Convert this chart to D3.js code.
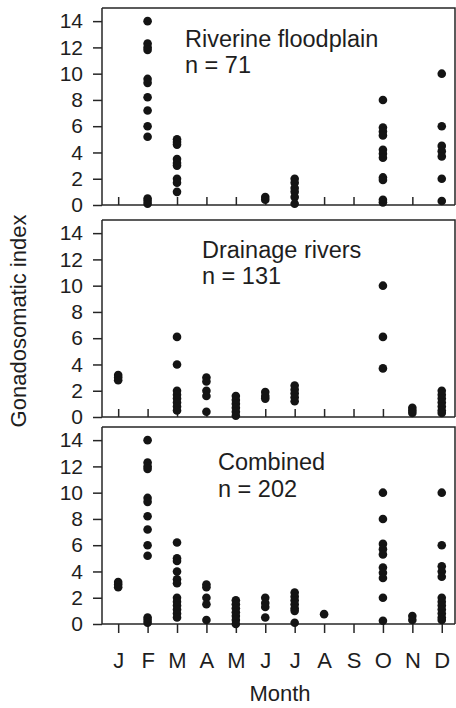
<!DOCTYPE html>
<html>
<head>
<meta charset="utf-8">
<script src="https://cdn.jsdelivr.net/npm/d3@7"></script>
<style>
  html, body { margin: 0; padding: 0; background: #ffffff; }
  svg text { font-family: "Liberation Sans", Arial, Helvetica, sans-serif; fill: #1e1e1e; }
</style>
</head>
<body>
<svg id="chart" width="456" height="708"></svg>
<script>
// ---- data ----
const months = ["J","F","M","A","M","J","J","A","S","O","N","D"];
const yTicks = [0, 2, 4, 6, 8, 10, 12, 14];
const panelTitles = ["Riverine floodplain", "Drainage rivers", "Combined"];
const panelCounts = ["n = 71", "n = 131", "n = 202"];

// values per month (J..D)
const floodplain = [
  [],
  [14.0, 12.3, 12.0, 11.8, 9.6, 9.3, 8.2, 7.2, 6.0, 5.2, 0.5, 0.3, 0.1],
  [5.0, 4.8, 4.6, 3.5, 3.2, 3.0, 2.0, 1.7, 1.0],
  [],
  [],
  [0.6, 0.4],
  [2.0, 1.7, 1.3, 1.0, 0.6, 0.1],
  [],
  [],
  [8.0, 5.9, 5.6, 5.3, 4.2, 3.9, 3.6, 2.1, 1.9, 0.4, 0.2],
  [],
  [10.0, 6.0, 4.5, 4.1, 3.7, 2.0, 0.3]
];
const drainage = [
  [3.2, 3.0, 2.8],
  [],
  [6.1, 4.0, 2.0, 1.7, 1.4, 1.1, 0.8, 0.5],
  [3.0, 2.7, 2.0, 1.6, 0.4],
  [1.6, 1.3, 1.0, 0.7, 0.4, 0.1],
  [1.9, 1.6, 1.4],
  [2.4, 2.1, 1.8, 1.5, 1.2],
  [],
  [],
  [10.0, 6.1, 3.7],
  [0.7, 0.5, 0.3],
  [2.0, 1.7, 1.4, 1.1, 0.8, 0.5, 0.3]
];
const combined = [
  [3.2, 3.0, 2.8],
  [14.0, 12.3, 12.0, 11.8, 9.6, 9.3, 8.2, 7.2, 6.0, 5.2, 0.5, 0.3, 0.1],
  [6.2, 5.0, 4.8, 4.0, 3.4, 3.1, 2.0, 1.7, 1.4, 1.1, 0.8, 0.5],
  [3.0, 2.8, 2.0, 1.5, 0.3],
  [1.8, 1.5, 1.2, 0.9, 0.6, 0.3, 0.0],
  [2.0, 1.6, 1.3, 0.5],
  [2.4, 2.1, 1.8, 1.5, 1.2, 1.0, 0.1],
  [0.75],
  [],
  [10.0, 8.0, 6.1, 5.7, 5.3, 4.3, 3.9, 3.5, 2.0, 0.25],
  [0.6, 0.3],
  [10.0, 6.0, 4.4, 4.0, 3.6, 2.0, 1.7, 1.4, 1.1, 0.8, 0.5, 0.3]
];
const panelData = [floodplain, drainage, combined];

// ---- layout ----
const svg = d3.select("#chart");
const left = 102, right = 455;
const panelTops = [8, 220, 427];
const panelH = 197;
const titlePos = [[185, 47, 73], [202, 258, 284], [218, 470, 497]];
const ink = "#262626";

const x = d3.scaleLinear().domain([0.45, 12.45]).range([left, right]);

panelData.forEach((data, p) => {
  const top = panelTops[p];
  const bottom = top + panelH;
  const y = d3.scaleLinear().domain([0, 15]).range([bottom, top]);
  const g = svg.append("g");

  // frame: top & right
  g.append("path")
    .attr("d", `M${left},${top}H${right}V${bottom}`)
    .attr("fill", "none").attr("stroke", ink).attr("stroke-width", 1.5);

  // y axis
  const ya = g.append("g").attr("transform", `translate(${left},0)`)
    .call(d3.axisLeft(y).tickValues(yTicks).tickSize(9).tickSizeOuter(0).tickPadding(10));
  ya.selectAll("path, line").attr("stroke", ink).attr("stroke-width", 1.5);
  ya.selectAll("text").attr("font-size", 21).style("font-family", "'Liberation Sans', Arial, sans-serif").attr("fill", "#1e1e1e");
  ya.select(".domain").attr("d", `M0,${top}V${bottom}`);

  // x axis
  const last = p === 2;
  const xa = g.append("g").attr("transform", `translate(0,${bottom})`)
    .call(d3.axisBottom(x).tickValues(d3.range(1, 13))
      .tickSize(last ? 9 : -8).tickSizeOuter(0).tickPadding(19)
      .tickFormat(d => last ? months[d - 1] : ""));
  xa.selectAll("path, line").attr("stroke", ink).attr("stroke-width", 1.5);
  xa.select(".domain").attr("d", `M${left},0H${right}`);
  xa.selectAll("text").attr("font-size", 22).style("font-family", "'Liberation Sans', Arial, sans-serif").attr("fill", "#1e1e1e");

  // points
  const pts = [];
  data.forEach((vals, i) => vals.forEach(v => pts.push({ m: i + 1, v })));
  g.append("g").selectAll("circle").data(pts).join("circle")
    .attr("cx", d => x(d.m)).attr("cy", d => y(d.v)).attr("r", 4.3)
    .attr("fill", "#141414");

  // titles
  const [tx, ty1, ty2] = titlePos[p];
  g.append("text").attr("x", tx).attr("y", ty1).attr("font-size", 23.5).text(panelTitles[p]);
  g.append("text").attr("x", tx).attr("y", ty2).attr("font-size", 23.5).text(panelCounts[p]);
});

// axis titles
svg.append("text")
  .attr("transform", "translate(26,321) rotate(-90)")
  .attr("text-anchor", "middle").attr("font-size", 22).text("Gonadosomatic index");
svg.append("text")
  .attr("x", 280).attr("y", 701)
  .attr("text-anchor", "middle").attr("font-size", 22).text("Month");
</script>
</body>
</html>
